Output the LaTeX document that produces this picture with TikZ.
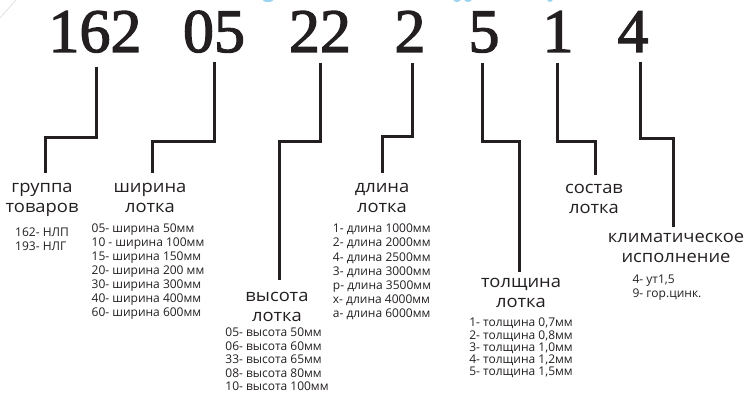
\documentclass[tikz,border=0pt]{standalone}
\usepackage{fontspec}
\setmainfont{Liberation Serif}
\newfontfamily\digitfont{Liberation Serif}[FakeBold=2]
\newfontfamily\labelfont{Open Sans}[FakeStretch=1.08]
\newfontfamily\listfont{Open Sans}
\usetikzlibrary{positioning}
\definecolor{ink}{HTML}{231F20}
\definecolor{skyblue}{HTML}{9AD3EE}

\begin{document}
\begin{tikzpicture}[
  x=1pt, y=-1pt,
  every node/.style={inner sep=0pt, text=ink},
  digit/.style={anchor=base, font=\digitfont\fontsize{62}{62}\selectfont},
  lbl/.style={anchor=north, align=center, font=\labelfont\fontsize{17}{20}\selectfont},
  codes/.style={align=left, font=\listfont\fontsize{12}{#1}\selectfont},
  codes/.default=14,
  link/.style={draw=ink, line width=3pt},
]
\useasboundingbox (0,0) rectangle (746,395);

% faint bits cut off at the top edge
\draw[gray!30, line width=0.6pt] (0,18) -- (16,0);
\fill[skyblue] (268,-1) ellipse (6 and 3);
\fill[skyblue] (457,-1) ellipse (4 and 3);
\fill[skyblue] (468,-1) ellipse (4 and 3);
\fill[skyblue] (550,-1) ellipse (3 and 3);

% code digits
\node[digit] (d1) at (95,52)  {162};
\node[digit] (d2) at (214,52) {05};
\node[digit] (d3) at (320,52) {22};
\node[digit] (d4) at (410,52) {2};
\node[digit] (d5) at (484,52) {5};
\node[digit] (d6) at (558,52) {1};
\node[digit] (d7) at (633,52) {4};

% field names
\node[lbl] (l1) at (42,183)  {группа\\товаров};
\node[lbl] (l2) at (150,183) {ширина\\лотка};
\node[lbl] (l3) at (277,292) {высота\\лотка};
\node[lbl] (l4) at (382,183) {длина\\лотка};
\node[lbl] (l5) at (521,278) {толщина\\лотка};
\node[lbl] (l6) at (594,184) {состав\\лотка};
\node[lbl] (l7) at (676,233) {климатическое\\исполнение};

% value lists
\node[codes, below=11pt of l1] (c1) {162- НЛП\\193- НЛГ};
\node[codes, below=11pt of l2, xshift=-2pt] (c2) {05- ширина 50мм\\10 - ширина 100мм\\15- ширина 150мм\\20- ширина 200 мм\\30- ширина 300мм\\40- ширина 400мм\\60- ширина 600мм};
\node[codes=13.5, below=6pt of l3] (c3) {05- высота 50мм\\06- высота 60мм\\33- высота 65мм\\08- высота 80мм\\10- высота 100мм};
\node[codes=14.2, below=11pt of l4] (c4) {1- длина 1000мм\\2- длина 2000мм\\4- длина 2500мм\\3- длина 3000мм\\р- длина 3500мм\\х- длина 4000мм\\а- длина 6000мм};
\node[codes=12.3, below=10pt of l5] (c5) {1- толщина 0,7мм\\2- толщина 0,8мм\\3- толщина 1,0мм\\4- толщина 1,2мм\\5- толщина 1,5мм};
\node[codes, below=12pt of l7, xshift=-9pt] (c7) {4- ут1,5\\9- гор.цинк.};

% stepped leaders
\draw[link] ([shift={(1,15)}]d1.base)  -- ++(0,71) -| ([shift={(3,-10)}]l1.north);
\draw[link] ([shift={(0,10)}]d2.base)  -- ++(0,80) -| ([shift={(2,-10)}]l2.north);
\draw[link] ([shift={(0,11)}]d3.base)  -- ++(0,79) -| ([shift={(2,-12)}]l3.north);
\draw[link] ([shift={(2,11)}]d4.base)  -- ++(0,74) -| ([shift={(0,-10)}]l4.north);
\draw[link] ([shift={(-2,11)}]d5.base) -- ++(0,79) -| ([shift={(-2,-6)}]l5.north);
\draw[link] ([shift={(-1,11)}]d6.base) -- ++(0,79) -| ([shift={(1,-9)}]l6.north);
\draw[link] ([shift={(7,10)}]d7.base)  -- ++(0,77) -| ([shift={(-3,-6)}]l7.north);

\end{tikzpicture}
\end{document}
